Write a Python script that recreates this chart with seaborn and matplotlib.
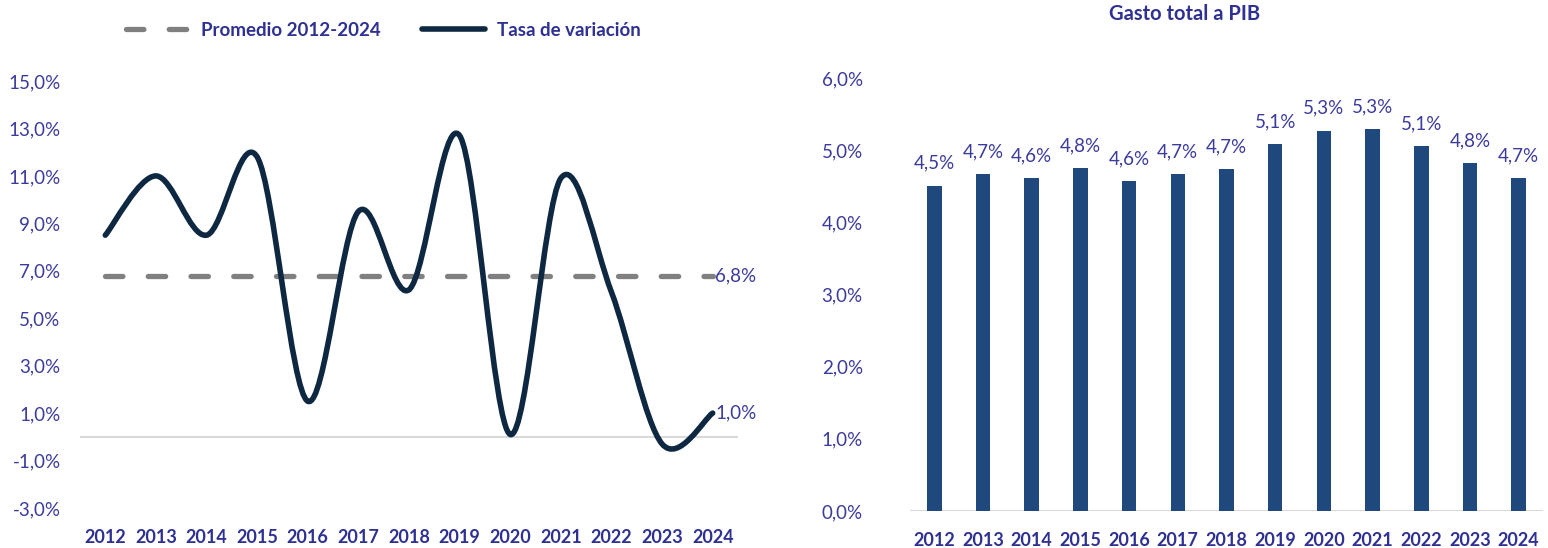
import numpy as np
import pandas as pd
import seaborn as sns
import matplotlib
matplotlib.use('Agg')
import matplotlib.pyplot as plt
from matplotlib.path import Path
from matplotlib.patches import PathPatch
from matplotlib.lines import Line2D

# datos
years = ['2012', '2013', '2014', '2015', '2016', '2017', '2018',
         '2019', '2020', '2021', '2022', '2023', '2024']
tasa_variacion = [8.5, 11.0, 8.5, 11.8, 1.5, 9.5, 6.2, 12.7, 0.1, 10.9, 6.1, -0.3, 1.0]
promedio = 6.8
gasto_pib = [4.51, 4.67, 4.61, 4.75, 4.57, 4.67, 4.74, 5.08, 5.27, 5.29, 5.06, 4.82, 4.61]
gasto_labels = ['4,5%', '4,7%', '4,6%', '4,8%', '4,6%', '4,7%', '4,7%',
                '5,1%', '5,3%', '5,3%', '5,1%', '4,8%', '4,7%']

NAVY = '#0E2841'
GRAY = '#808080'
BAR = '#1F497D'
TXT = '#3B3B9E'
TXT_BOLD = '#2E3192'

sns.set_style('white')
plt.rcParams['font.family'] = ['Lato', 'DejaVu Sans']

W, H = 1548, 548
fig = plt.figure(figsize=(W / 100, H / 100), dpi=100)
ax1 = fig.add_axes([80 / W, 1 - 508 / H, (738 - 80) / W, (508 - 81) / H])
ax2 = fig.add_axes([910 / W, 1 - 511 / H, (1543 - 910) / W, (511 - 78) / H])

pos = np.arange(len(years))
df = pd.DataFrame({'pos': pos, 'tasa': tasa_variacion, 'promedio': promedio})

# ---- panel izquierdo: tasa de variacion ----
ax1.axhline(0, color='#D9D9D9', lw=1.5, zorder=0)
sns.lineplot(data=df, x='pos', y='promedio', ax=ax1, color=GRAY, lw=3.8,
             linestyle=(0, (3.3, 4.8)), dash_capstyle='round', zorder=2)

# linea suavizada (estilo Excel) a partir de los puntos
pts = df[['pos', 'tasa']].to_numpy(dtype=float)
n = len(pts)
verts = [pts[0]]
codes = [Path.MOVETO]
for i in range(n - 1):
    p0 = pts[max(i - 1, 0)]
    p1 = pts[i]
    p2 = pts[i + 1]
    p3 = pts[min(i + 2, n - 1)]
    verts += [p1 + (p2 - p0) / 6, p2 - (p3 - p1) / 6, p2]
    codes += [Path.CURVE4] * 3
ax1.add_patch(PathPatch(Path(verts, codes), facecolor='none', edgecolor=NAVY,
                        lw=4, capstyle='round', joinstyle='round', zorder=3))

ax1.text(12.05, promedio, '6,8%', ha='left', va='center', fontsize=13.5, color=TXT)
ax1.text(12.05, tasa_variacion[-1], '1,0%', ha='left', va='center', fontsize=13.5, color=TXT)

ax1.set_xlim(-0.5, 12.5)
ax1.set_ylim(-3, 15)
ax1.set_yticks(np.arange(-3, 16, 2))
ax1.set_yticklabels([f'{v:.1f}%'.replace('.', ',') for v in np.arange(-3, 16, 2)])
ax1.set_xticks(pos)
ax1.set_xticklabels(years)
ax1.set_xlabel('')
ax1.set_ylabel('')
ax1.tick_params(axis='y', length=0, pad=14, labelsize=13.5, labelcolor=TXT)
ax1.tick_params(axis='x', length=0, pad=15, labelsize=13, labelcolor=TXT_BOLD)
for lbl in ax1.get_xticklabels():
    lbl.set_fontweight('bold')

handles = [Line2D([], [], color=GRAY, lw=3.8, linestyle=(0, (3.3, 4.8)), dash_capstyle='round'),
           Line2D([], [], color=NAVY, lw=4, solid_capstyle='round')]
fig.legend(handles, ['Promedio 2012-2024', 'Tasa de variación'], loc='center',
           bbox_to_anchor=(383 / W, 1 - 30 / H), ncol=2, frameon=False,
           prop={'weight': 'bold', 'size': 13.5}, labelcolor=TXT_BOLD,
           handlelength=3.4, handletextpad=0.6, columnspacing=2.2)

# ---- panel derecho: gasto total a PIB ----
ax2.axhline(0, color='#D9D9D9', lw=1.5, zorder=0)
sns.barplot(x=years, y=gasto_pib, ax=ax2, color=BAR, width=0.3, saturation=1,
            linewidth=0, zorder=2)
ax2.bar_label(ax2.containers[0], labels=gasto_labels, padding=10, fontsize=13.5, color=TXT)
ax2.set_xlim(-0.5, 12.5)
ax2.set_ylim(0, 6)
ax2.set_yticks(np.arange(0, 7, 1))
ax2.set_yticklabels([f'{v:.1f}%'.replace('.', ',') for v in np.arange(0, 7, 1)])
ax2.set_xlabel('')
ax2.set_ylabel('')
ax2.tick_params(axis='y', length=0, pad=34, labelsize=13.5, labelcolor=TXT)
ax2.tick_params(axis='x', length=0, pad=15, labelsize=13, labelcolor=TXT_BOLD)
for lbl in ax2.get_xticklabels():
    lbl.set_fontweight('bold')

fig.text(1185 / W, 1 - 14 / H, 'Gasto total a PIB', ha='center', va='center',
         fontsize=14.5, fontweight='bold', color=TXT_BOLD)

sns.despine(ax=ax1, left=True, bottom=True)
sns.despine(ax=ax2, left=True, bottom=True)

fig.savefig('out.png', dpi=100)
